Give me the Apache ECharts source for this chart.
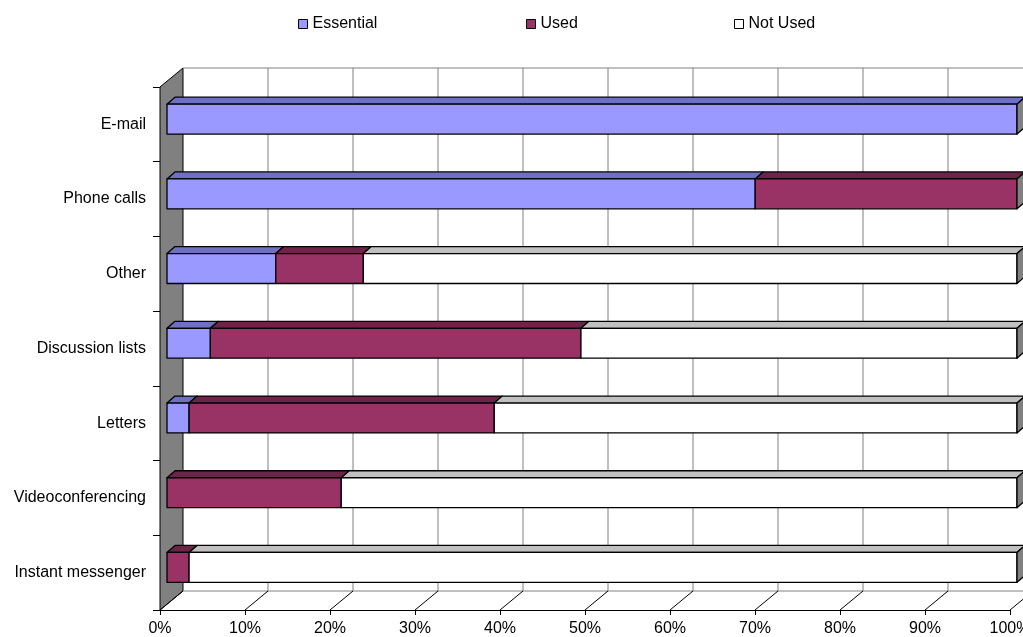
<!DOCTYPE html>
<html><head><meta charset="utf-8">
<script src="https://cdn.jsdelivr.net/npm/echarts@6/dist/echarts.min.js"></script>
<style>html,body{margin:0;padding:0;background:#fff;overflow:hidden}#c{width:1023px;height:637px}</style>
</head><body><div id="c"></div>
<script>
const categories = ['E-mail','Phone calls','Other','Discussion lists','Letters','Videoconferencing','Instant messenger'];
const essential = [100, 69.2, 12.8, 5.1, 2.6, 0, 0];
const used      = [0, 30.8, 10.3, 43.6, 35.9, 20.5, 2.6];
const notUsed   = [0, 0, 76.9, 51.3, 61.5, 79.5, 97.4];
const xTicks = [0, 10, 20, 30, 40, 50, 60, 70, 80, 90, 100];

const FONT = 'Liberation Sans, Arial, sans-serif';
const WALL_DX = 23, WALL_DY = -19;   // depth of the 3D box
const BAR_OX = 7;                    // front face of bars inside the box
const BAR_DX = 8, BAR_DY = -7;       // bar depth

function segs(startArr, vals) {
  return vals.map((v, i) => [startArr[i], startArr[i] + v, i]);
}
const s0 = categories.map(() => 0);
const s1 = essential.slice();
const s2 = essential.map((v, i) => v + used[i]);

function barRender(face, topc, drawSide) {
  return function (params, api) {
    const s = api.value(0), e = api.value(1), c = api.value(2);
    const p0 = api.coord([s, c]), p1 = api.coord([e, c]);
    const band = api.size([0, 1])[1];
    const h = band * 0.40;
    const x0 = p0[0] + BAR_OX, x1 = p1[0] + BAR_OX;
    const yt = p0[1] - band * 0.27, yb = yt + h;
    const children = [];
    const st = { stroke: '#000', lineWidth: 1.3, lineJoin: 'round' };
    if (e - s > 0.001) {
      children.push({ type: 'polygon', shape: { points: [[x0, yt], [x1, yt], [x1 + BAR_DX, yt + BAR_DY], [x0 + BAR_DX, yt + BAR_DY]] },
        style: Object.assign({ fill: topc }, st) });
      children.push({ type: 'rect', shape: { x: x0, y: yt, width: x1 - x0, height: h },
        style: Object.assign({ fill: face }, st) });
    }
    if (drawSide) {
      children.push({ type: 'polygon', shape: { points: [[x1, yt], [x1 + BAR_DX, yt + BAR_DY], [x1 + BAR_DX, yb + BAR_DY], [x1, yb]] },
        style: Object.assign({ fill: '#808080' }, st) });
    }
    return { type: 'group', children };
  };
}

function wallRender(params, api) {
  const v = api.value(0);
  const pt = api.coord([v, 0]), pb = api.coord([v, categories.length - 1]);
  const band = api.size([0, 1])[1];
  const yTop = pt[1] - band / 2, yBot = pb[1] + band / 2;
  const x = pt[0];
  const children = [];
  if (params.dataIndex === 0) {
    const xr = api.coord([100, 0])[0];
    children.push({ type: 'polygon', shape: { points: [[x, yTop], [x + WALL_DX, yTop + WALL_DY], [x + WALL_DX, yBot + WALL_DY], [x, yBot]] },
      style: { fill: '#808080', stroke: '#000', lineWidth: 1 } });
    children.push({ type: 'line', shape: { x1: x + WALL_DX, y1: yTop + WALL_DY, x2: xr + WALL_DX + 40, y2: yTop + WALL_DY },
      style: { stroke: '#808080', lineWidth: 1 } });
    children.push({ type: 'line', shape: { x1: x + WALL_DX, y1: yBot + WALL_DY, x2: xr + WALL_DX + 40, y2: yBot + WALL_DY },
      style: { stroke: '#808080', lineWidth: 1 } });
  } else {
    children.push({ type: 'line', shape: { x1: x + WALL_DX, y1: yTop + WALL_DY, x2: x + WALL_DX, y2: yBot + WALL_DY },
      style: { stroke: '#808080', lineWidth: 1 } });
  }
  children.push({ type: 'line', shape: { x1: x, y1: yBot, x2: x + WALL_DX, y2: yBot + WALL_DY },
    style: { stroke: '#000', lineWidth: 1 } });
  return { type: 'group', children };
}

const chart = echarts.init(document.getElementById('c'), null, { renderer: 'canvas', width: 1023, height: 637 });
const legendBase = {
  top: 16, padding: 0, itemWidth: 9, itemHeight: 9, icon: 'rect',
  itemStyle: { borderColor: '#000', borderWidth: 1 },
  textStyle: { fontFamily: FONT, fontSize: 16, color: '#000' }
};
chart.setOption({
  animation: false,
  backgroundColor: '#fff',
  legend: [
    Object.assign({ left: 298, data: ['Essential'] }, legendBase),
    Object.assign({ left: 526, data: ['Used'] }, legendBase),
    Object.assign({ left: 734, data: ['Not Used'] }, legendBase)
  ],
  grid: { left: 160, width: 850, top: 87, height: 523, containLabel: false, outerBoundsMode: 'none' },
  xAxis: {
    type: 'value', min: 0, max: 100, interval: 10,
    axisLine: { show: true, lineStyle: { color: '#000', width: 1 } },
    axisTick: { show: true, length: 5, lineStyle: { color: '#000' } },
    splitLine: { show: false },
    axisLabel: { formatter: '{value}%', color: '#000', fontFamily: FONT, fontSize: 16, margin: 11 }
  },
  yAxis: {
    type: 'category', data: categories, inverse: true,
    axisLine: { show: true, lineStyle: { color: '#000', width: 1 } },
    axisTick: { show: true, length: 7, lineStyle: { color: '#000' } },
    splitLine: { show: false },
    axisLabel: { color: '#000', fontFamily: FONT, fontSize: 16, margin: 14 }
  },
  series: [
    { type: 'custom', name: 'walls', silent: true, z: 1, clip: false,
      renderItem: wallRender, encode: { x: 0, y: 1 },
      data: xTicks.map(v => [v, 0]) },
    { type: 'custom', name: 'Essential', z: 3, clip: false,
      itemStyle: { color: '#9999FF', borderColor: '#000' },
      renderItem: barRender('#9999FF', '#7070C0', false), encode: { x: [0, 1], y: 2 },
      data: segs(s0, essential) },
    { type: 'custom', name: 'Used', z: 3, clip: false,
      itemStyle: { color: '#993366', borderColor: '#000' },
      renderItem: barRender('#993366', '#6E2449', false), encode: { x: [0, 1], y: 2 },
      data: segs(s1, used) },
    { type: 'custom', name: 'Not Used', z: 3, clip: false,
      itemStyle: { color: '#FFFFFF', borderColor: '#000' },
      renderItem: barRender('#FFFFFF', '#C0C0C0', true), encode: { x: [0, 1], y: 2 },
      data: segs(s2, notUsed) }
  ]
});
</script>
</body></html>
